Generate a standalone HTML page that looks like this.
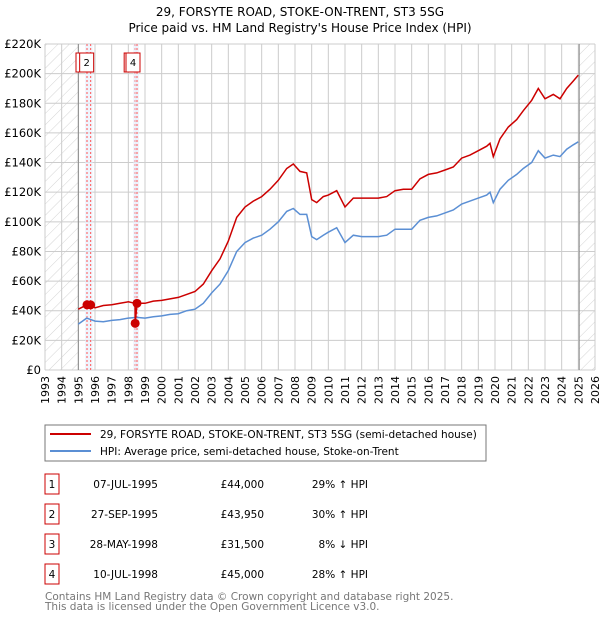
<!DOCTYPE html>
<html><head><meta charset="utf-8"><style>
body{margin:0;background:#fff;width:600px;height:620px;overflow:hidden;font-family:"DejaVu Sans","Liberation Sans",sans-serif;}
svg text{font-family:"DejaVu Sans","Liberation Sans",sans-serif;}
</style></head><body>
<svg id="chart" width="600" height="620">
<defs><pattern id="hatch" width="8" height="8" patternUnits="userSpaceOnUse" patternTransform="rotate(45)"><line x1="0" y1="0" x2="0" y2="8" stroke="#d4d4d4" stroke-width="1"/></pattern></defs>
<text x="300" y="16" text-anchor="middle" font-size="12">29, FORSYTE ROAD, STOKE-ON-TRENT, ST3 5SG</text>
<text x="300" y="32" text-anchor="middle" font-size="12">Price paid vs. HM Land Registry's House Price Index (HPI)</text>
<g id="grid"></g><g id="marks"></g><g id="axes"></g>
<rect x="45" y="425" width="441" height="36" fill="#fff" stroke="#777"/>
<line x1="50" y1="434" x2="91" y2="434" stroke="#cc0000" stroke-width="2"/>
<text x="100" y="438" font-size="10.5">29, FORSYTE ROAD, STOKE-ON-TRENT, ST3 5SG (semi-detached house)</text>
<line x1="50" y1="451" x2="91" y2="451" stroke="#5b8fd4" stroke-width="2"/>
<text x="100" y="455" font-size="10.5">HPI: Average price, semi-detached house, Stoke-on-Trent</text>
<g id="table" font-size="10.5"></g>
<text x="45" y="600" font-size="10.5" fill="#777">Contains HM Land Registry data © Crown copyright and database right 2025.</text>
<text x="45" y="610" font-size="10.5" fill="#777">This data is licensed under the Open Government Licence v3.0.</text>
</svg>
<script>
const yearTicks=[1993,1994,1995,1996,1997,1998,1999,2000,2001,2002,2003,2004,2005,2006,2007,2008,2009,2010,2011,2012,2013,2014,2015,2016,2017,2018,2019,2020,2021,2022,2023,2024,2025,2026];
const priceTicks=[0,20,40,60,80,100,120,140,160,180,200,220];
const hpiYears=[1995.0,1995.5,1996,1996.5,1997,1997.5,1998,1998.5,1999,1999.5,2000,2000.5,2001,2001.5,2002,2002.5,2003,2003.5,2004,2004.5,2005,2005.5,2006,2006.5,2007,2007.5,2007.9,2008.3,2008.7,2009.0,2009.3,2009.7,2010,2010.5,2011,2011.5,2012,2012.5,2013,2013.5,2014,2014.5,2015,2015.5,2016,2016.5,2017,2017.5,2018,2018.5,2019,2019.5,2019.7,2019.9,2020.3,2020.8,2021.3,2021.7,2022.2,2022.6,2023,2023.5,2023.9,2024.3,2024.7,2025];
const hpiValues=[31,35,33,32.5,33.5,34,35,35.5,35,36,36.5,37.5,38,40,41,45,52,58,67,80,86,89,91,95,100,107,109,105,105,90,88,91,93,96,86,91,90,90,90,91,95,95,95,101,103,104,106,108,112,114,116,118,120,113,122,128,132,136,140,148,143,145,144,149,152,154];
const priceYears=[1995.0,1995.52,1995.74,1996,1996.5,1997,1997.5,1998,1998.40,1998.41,1998.52,1999,1999.5,2000,2000.5,2001,2001.5,2002,2002.5,2003,2003.5,2004,2004.5,2005,2005.5,2006,2006.5,2007,2007.5,2007.9,2008.3,2008.7,2009.0,2009.3,2009.7,2010,2010.5,2011,2011.5,2012,2012.5,2013,2013.5,2014,2014.5,2015,2015.5,2016,2016.5,2017,2017.5,2018,2018.5,2019,2019.5,2019.7,2019.9,2020.3,2020.8,2021.3,2021.7,2022.2,2022.6,2023,2023.5,2023.9,2024.3,2024.7,2025];
const priceValues=[41,44,43.95,42,43.5,44,45,46,45,31.5,45,45,46.5,47,48,49,51,53,58,67,75,87,103,110,114,117,122,128,136,139,134,133,115,113,117,118,121,110,116,116,116,116,117,121,122,122,129,132,133,135,137,143,145,148,151,153,144,156,164,169,175,182,190,183,186,183,190,195,199];
const saleYears=[1995.52,1995.74,1998.41,1998.52];
const saleValues=[44,43.95,31.5,45];
const saleLabels=["1","2","3","4"];
const saleDates=["07-JUL-1995","27-SEP-1995","28-MAY-1998","10-JUL-1998"];
const salePrices=["£44,000","£43,950","£31,500","£45,000"];
const saleHpi=["29% ↑ HPI","30% ↑ HPI","8% ↓ HPI","28% ↑ HPI"];

const X0=45,X1=595,Y0=370,Y1=44;
const xs=y=>X0+(y-1993)/(2026-1993)*(X1-X0);
const ys=v=>Y0-v/220*(Y0-Y1);
const NS="http://www.w3.org/2000/svg";
function mk(parent,tag,attrs){const e=document.createElementNS(NS,tag);for(const k in attrs)e.setAttribute(k,attrs[k]);parent.appendChild(e);return e;}
const grid=document.getElementById('grid'),marks=document.getElementById('marks'),axes=document.getElementById('axes'),table=document.getElementById('table');

let r=mk(grid,'rect',{x:X0,y:Y1,width:X1-X0,height:Y0-Y1,fill:'#fff'});


let h1=mk(grid,'rect',{x:X0,y:Y1,width:xs(1995)-X0,height:Y0-Y1,fill:'url(#hatch)'});


let h2=mk(grid,'rect',{x:xs(2025.05),y:Y1,width:X1-xs(2025.05),height:Y0-Y1,fill:'url(#hatch)'});


yearTicks.forEach(y=>{
  const l=mk(grid,'line',{x1:xs(y),x2:xs(y),y1:Y1,y2:Y0,stroke:'#ccc'});
  
  
  const t=mk(axes,'text',{x:0,y:0,'font-size':11,'text-anchor':'end',transform:`translate(${xs(y)+4},${Y0+6}) rotate(-90)`});
  t.textContent=y;
  
  
});
priceTicks.forEach(v=>{
  const l=mk(grid,'line',{x1:X0,x2:X1,y1:ys(v),y2:ys(v),stroke:'#ccc'});
  
  
  const t=mk(axes,'text',{x:X0-4,y:ys(v)+4,'font-size':11.5,'text-anchor':'end'});
  t.textContent=v===0?'£0':'£'+v+'K';
  
  
});
let bl=mk(grid,'line',{x1:xs(1995),x2:xs(1995),y1:Y1,y2:Y0,stroke:'#888'});


let el=mk(grid,'line',{x1:xs(2025.05),x2:xs(2025.05),y1:Y1,y2:Y0,stroke:'#888'});



saleYears.forEach((y,i)=>{
  const b=mk(marks,'rect',{x:xs(y)-2,y:Y1,width:4,height:Y0-Y1,fill:'#e6eefb',opacity:0.6});
  
  
  const l=mk(marks,'line',{x1:xs(y),x2:xs(y),y1:Y1,y2:Y0,stroke:'#f55','stroke-dasharray':'2,2'});
  
  
});
saleYears.forEach((y,i)=>{
  const bx=mk(marks,'rect',{x:xs(y)-11,y:53,width:14,height:19,fill:'#fff',stroke:'#cc0000'});
  
  
  const t=mk(marks,'text',{x:xs(y)-4,y:66,'font-size':10,'text-anchor':'middle'});
  t.textContent=saleLabels[i];
  
  
});
const pts=(a,b)=>a.map((y,i)=>xs(y).toFixed(1)+','+ys(b[i]).toFixed(1)).join(' ');
let hl=mk(marks,'polyline',{points:pts(hpiYears,hpiValues),fill:'none',stroke:'#5b8fd4','stroke-width':1.5});


let pl=mk(marks,'polyline',{points:pts(priceYears,priceValues),fill:'none',stroke:'#cc0000','stroke-width':1.5});


saleYears.forEach((y,i)=>{
  const c=mk(marks,'circle',{cx:xs(y),cy:ys(saleValues[i]),r:4.5,fill:'#cc0000'});
  
  
});

saleLabels.forEach((lab,i)=>{
  const cy=484+i*30;
  const b=mk(table,'rect',{x:45,y:cy-10,width:14,height:20,fill:'#fff',stroke:'#cc0000'});
  
  
  const cells=[[52,lab,'middle'],[158,saleDates[i],'end'],[264,salePrices[i],'end'],[368,saleHpi[i],'end']];
  cells.forEach(([x,txt,anc],j)=>{
    const t=mk(table,'text',{x:x,y:cy+4,'text-anchor':anc});
    t.textContent=txt;
    
    
  });
});
</script>
</body></html>
